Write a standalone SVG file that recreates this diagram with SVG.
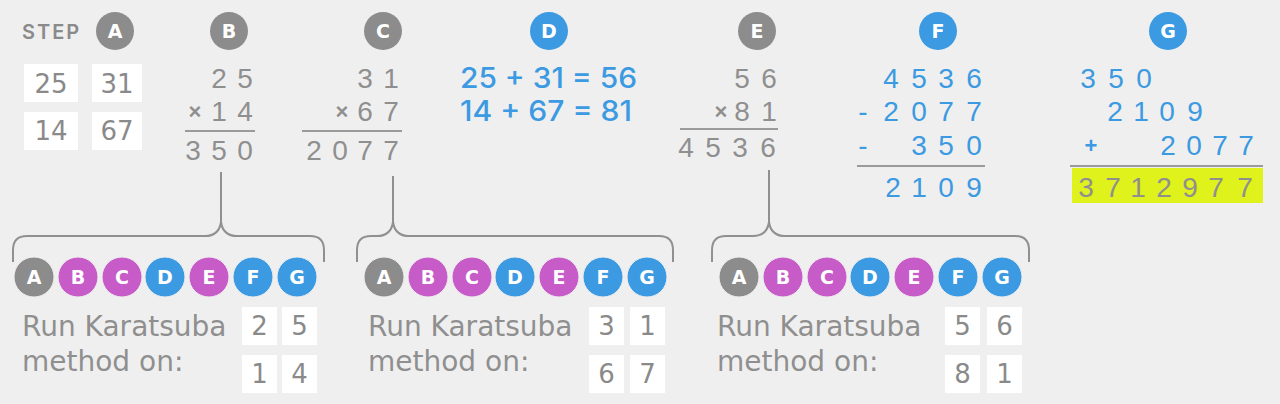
<svg xmlns="http://www.w3.org/2000/svg" width="1280" height="404" viewBox="0 0 1280 404">
<style>
.bg{fill:#efefef}
.gray{fill:#8c8c8c}
.mag{fill:#c75bc8}
.blue{fill:#3b9ae1}
.lbl{font-family:"DejaVu Sans",sans-serif;font-size:19px;font-weight:bold;fill:#fff;text-anchor:middle}
.circ{stroke:#efefef;stroke-width:1}
.num{font-family:"Liberation Sans",Arial,sans-serif;font-size:28px;text-anchor:middle}
.ng{fill:#8f8f8f}
.nb{fill:#3b9ae1}
.op{font-family:"Liberation Sans",Arial,sans-serif;font-size:22px;font-weight:bold;text-anchor:middle}
.rule{stroke:#9a9a9a;stroke-width:2;fill:none}
.box{fill:#ffffff}
.bx{font-family:"DejaVu Sans",sans-serif;font-size:26px;fill:#8a8a8a;text-anchor:middle}
.txt{font-family:"DejaVu Sans",sans-serif;font-size:28px;fill:#8f8f8f}
.eq{font-family:Inter,"DejaVu Sans",sans-serif;font-size:28px;font-weight:500;fill:#3b9ae1}
.brace{stroke:#909090;stroke-width:2;fill:none}
</style>
<rect class="bg" x="0" y="0" width="1280" height="404"/>

<g id="header">
<text x="22" y="39" font-family="Inter, DejaVu Sans, sans-serif" font-size="20" font-weight="600" letter-spacing="2" fill="#8a8a8a">STEP</text>
</g>

<g id="step-a">
<circle class="gray" cx="115" cy="31" r="19"/><text class="lbl" x="115" y="38">A</text>
<rect class="box" x="24" y="64" width="54" height="38"/>
<rect class="box" x="92" y="64" width="50" height="38"/>
<rect class="box" x="24" y="112" width="54" height="38"/>
<rect class="box" x="92" y="112" width="50" height="38"/>
<text class="bx" x="51" y="93">25</text>
<text class="bx" x="117" y="93">31</text>
<text class="bx" x="51" y="140">14</text>
<text class="bx" x="117" y="140">67</text>
</g>

<g id="step-b">
<circle class="gray" cx="229" cy="31" r="19"/><text class="lbl" x="229" y="38">B</text>
<text class="num ng" x="219 245" y="88">25</text>
<text class="op ng" x="195" y="119">×</text>
<text class="num ng" x="219 245" y="121">14</text>
<line class="rule" x1="185" y1="131" x2="255" y2="131"/>
<text class="num ng" x="193 219 245" y="160">350</text>
</g>

<g id="step-c">
<circle class="gray" cx="383" cy="31" r="19"/><text class="lbl" x="383" y="38">C</text>
<text class="num ng" x="365 391" y="88">31</text>
<text class="op ng" x="342" y="119">×</text>
<text class="num ng" x="365 391" y="121">67</text>
<line class="rule" x1="302" y1="131" x2="402" y2="131"/>
<text class="num ng" x="314 340 365 391" y="160">2077</text>
</g>

<g id="step-d">
<circle class="blue" cx="549" cy="31" r="19"/><text class="lbl" x="549" y="38">D</text>
<text class="eq" x="460" y="88" textLength="177" lengthAdjust="spacingAndGlyphs">25 + 31 = 56</text>
<text class="eq" x="460" y="121" textLength="172" lengthAdjust="spacingAndGlyphs">14 + 67 = 81</text>
</g>

<g id="step-e">
<circle class="gray" cx="757" cy="31" r="19"/><text class="lbl" x="757" y="38">E</text>
<text class="num ng" x="742 769" y="88">56</text>
<text class="op ng" x="721" y="119">×</text>
<text class="num ng" x="742 769" y="121">81</text>
<line class="rule" x1="680" y1="129" x2="778" y2="129"/>
<text class="num ng" x="686 713 740 768" y="157">4536</text>
</g>

<g id="step-f">
<circle class="blue" cx="938" cy="31" r="19"/><text class="lbl" x="938" y="38">F</text>
<text class="num nb" x="891 919 946 974" y="88">4536</text>
<text class="num nb" x="863 891 919 946 974" y="121">-2077</text>
<text class="num nb" x="863 919 946 974" y="155">-350</text>
<line class="rule" x1="857" y1="166" x2="985" y2="166"/>
<text class="num nb" x="893 919 946 974" y="197">2109</text>
</g>

<g id="step-g">
<circle class="blue" cx="1168" cy="31" r="19"/><text class="lbl" x="1168" y="38">G</text>
<text class="num nb" x="1088 1116 1144" y="88">350</text>
<text class="num nb" x="1115 1141 1167 1195" y="121">2109</text>
<text class="op nb" x="1091" y="153">+</text>
<text class="num nb" x="1168 1194 1220 1246" y="155">2077</text>
<line class="rule" x1="1070" y1="166" x2="1263" y2="166"/>
<rect x="1072" y="168" width="191" height="35" fill="#e0f21c"/>
<text class="num ng" x="1086 1113 1138 1164 1190 1216 1245" y="197">3712977</text>
</g>

<g id="connectors">
<path class="brace" d="M221,172 V222 Q219,236 205,236 H27 Q13,236 13,250 V262 M221,222 Q223,236 237,236 H310 Q324,236 324,250 V262"/>
<path class="brace" d="M393,176 V222 Q391,236 377,236 H371 Q357,236 357,250 V262 M393,222 Q395,236 409,236 H659 Q673,236 673,250 V262"/>
<path class="brace" d="M769,170 V222 Q767,236 753,236 H726 Q712,236 712,250 V262 M769,222 Q771,236 785,236 H1015 Q1029,236 1029,250 V262"/>
</g>

<g id="recurse-1">
<circle class="gray circ" cx="34" cy="277" r="20"/><text class="lbl" x="34" y="284">A</text>
<circle class="mag circ" cx="78" cy="277" r="20"/><text class="lbl" x="78" y="284">B</text>
<circle class="mag circ" cx="122" cy="277" r="20"/><text class="lbl" x="122" y="284">C</text>
<circle class="blue circ" cx="165" cy="277" r="20"/><text class="lbl" x="165" y="284">D</text>
<circle class="mag circ" cx="209" cy="277" r="20"/><text class="lbl" x="209" y="284">E</text>
<circle class="blue circ" cx="253" cy="277" r="20"/><text class="lbl" x="253" y="284">F</text>
<circle class="blue circ" cx="297" cy="277" r="20"/><text class="lbl" x="297" y="284">G</text>
<text class="txt" x="22" y="336">Run Karatsuba</text>
<text class="txt" x="22" y="371">method on:</text>
<rect class="box" x="242" y="307" width="35" height="38"/>
<rect class="box" x="282" y="307" width="35" height="38"/>
<rect class="box" x="242" y="355" width="35" height="38"/>
<rect class="box" x="282" y="355" width="35" height="38"/>
<text class="bx" x="259.5" y="335">2</text>
<text class="bx" x="299.5" y="335">5</text>
<text class="bx" x="259.5" y="383">1</text>
<text class="bx" x="299.5" y="383">4</text>
</g>

<g id="recurse-2">
<circle class="gray circ" cx="384" cy="277" r="20"/><text class="lbl" x="384" y="284">A</text>
<circle class="mag circ" cx="428" cy="277" r="20"/><text class="lbl" x="428" y="284">B</text>
<circle class="mag circ" cx="472" cy="277" r="20"/><text class="lbl" x="472" y="284">C</text>
<circle class="blue circ" cx="515" cy="277" r="20"/><text class="lbl" x="515" y="284">D</text>
<circle class="mag circ" cx="559" cy="277" r="20"/><text class="lbl" x="559" y="284">E</text>
<circle class="blue circ" cx="603" cy="277" r="20"/><text class="lbl" x="603" y="284">F</text>
<circle class="blue circ" cx="647" cy="277" r="20"/><text class="lbl" x="647" y="284">G</text>
<text class="txt" x="368" y="336">Run Karatsuba</text>
<text class="txt" x="368" y="371">method on:</text>
<rect class="box" x="589" y="307" width="35" height="38"/>
<rect class="box" x="630" y="307" width="35" height="38"/>
<rect class="box" x="589" y="355" width="35" height="38"/>
<rect class="box" x="630" y="355" width="35" height="38"/>
<text class="bx" x="606.5" y="335">3</text>
<text class="bx" x="647.5" y="335">1</text>
<text class="bx" x="606.5" y="383">6</text>
<text class="bx" x="647.5" y="383">7</text>
</g>

<g id="recurse-3">
<circle class="gray circ" cx="739" cy="277" r="20"/><text class="lbl" x="739" y="284">A</text>
<circle class="mag circ" cx="783" cy="277" r="20"/><text class="lbl" x="783" y="284">B</text>
<circle class="mag circ" cx="827" cy="277" r="20"/><text class="lbl" x="827" y="284">C</text>
<circle class="blue circ" cx="870" cy="277" r="20"/><text class="lbl" x="870" y="284">D</text>
<circle class="mag circ" cx="914" cy="277" r="20"/><text class="lbl" x="914" y="284">E</text>
<circle class="blue circ" cx="958" cy="277" r="20"/><text class="lbl" x="958" y="284">F</text>
<circle class="blue circ" cx="1002" cy="277" r="20"/><text class="lbl" x="1002" y="284">G</text>
<text class="txt" x="717" y="336">Run Karatsuba</text>
<text class="txt" x="717" y="371">method on:</text>
<rect class="box" x="945" y="307" width="35" height="38"/>
<rect class="box" x="987" y="307" width="35" height="38"/>
<rect class="box" x="945" y="355" width="35" height="38"/>
<rect class="box" x="987" y="355" width="35" height="38"/>
<text class="bx" x="962.5" y="335">5</text>
<text class="bx" x="1004.5" y="335">6</text>
<text class="bx" x="962.5" y="383">8</text>
<text class="bx" x="1004.5" y="383">1</text>
</g>
</svg>
